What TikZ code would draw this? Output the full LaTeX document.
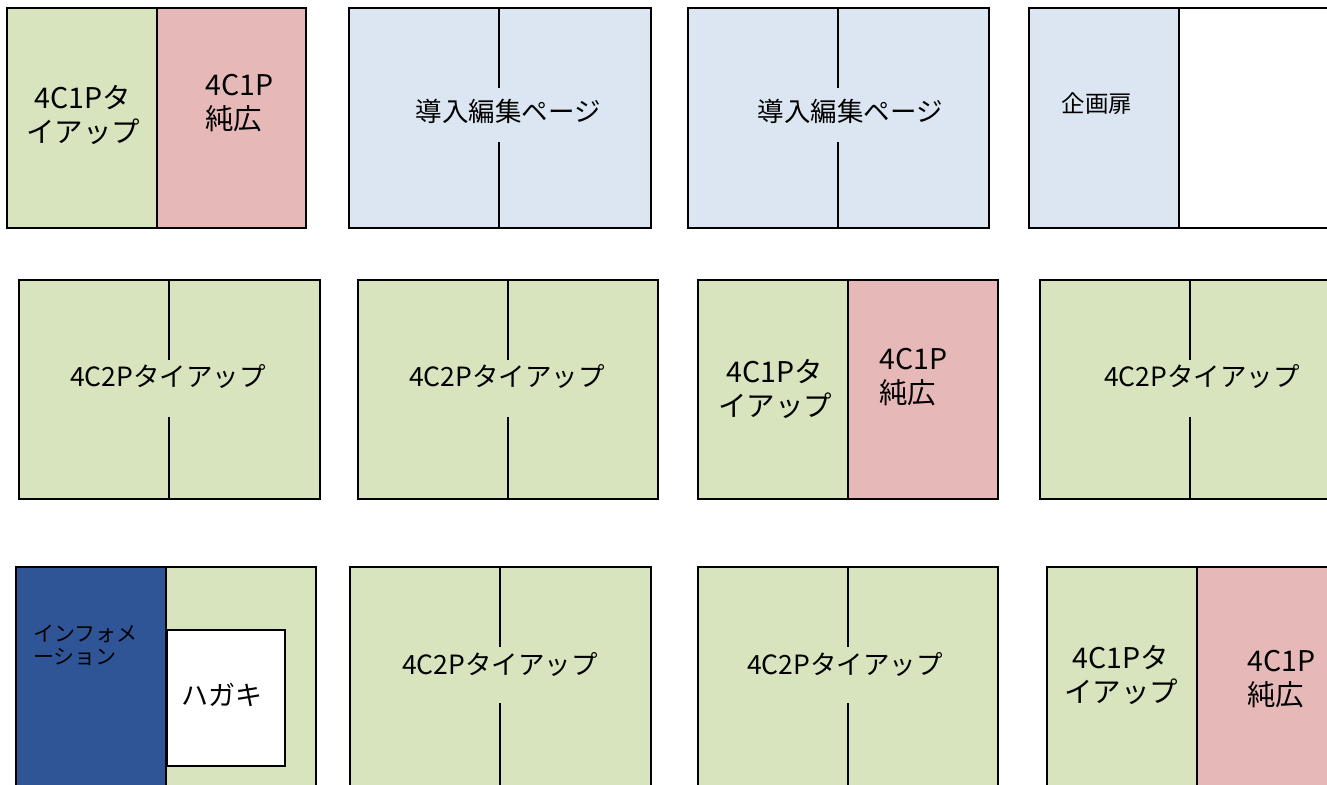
\documentclass[tikz,border=0pt]{standalone}
\usepackage{fontspec}
\newfontfamily\jp{Noto Sans CJK JP}
\definecolor{pgreen}{HTML}{D7E4BD}
\definecolor{ppink}{HTML}{E6B9B8}
\definecolor{pblue}{HTML}{DCE6F2}
\definecolor{pnavy}{HTML}{2F5597}
\begin{document}
\begin{tikzpicture}[x=1pt,y=-1pt,
  edge/.style={draw=black,line width=2pt},
  lbl/.style={inner sep=0pt,text=black},
  big/.style={lbl,font=\jp\fontsize{28.5}{34}\selectfont},
  mid/.style={lbl,font=\jp\fontsize{26.5}{30}\selectfont},
  small/.style={lbl,font=\jp\fontsize{21}{23}\selectfont}]
\useasboundingbox (0,0) rectangle (1327,784);
\clip (0,0) rectangle (1327,784);
% ---------- row 1 ----------
% A
\fill[pgreen] (7,8) rectangle (157,228);
\fill[ppink] (157,8) rectangle (306,228);
\draw[edge] (7,8) rectangle (306,228);
\draw[edge] (157,8) -- (157,228);
\node[big,align=center] (a1) at (83,115) {4C1Pタ\\イアップ};
\node[big,align=left,anchor=west] (a2) at (205,103) {4C1P\\純広};
% B
\fill[pblue] (349,8) rectangle (651,228);
\draw[edge] (349,8) rectangle (651,228);
\draw[edge] (499,8) -- (499,88) (499,142) -- (499,228);
\node[mid] (b1) at (508,111) {導入編集ページ};
% C
\fill[pblue] (688,8) rectangle (989,228);
\draw[edge] (688,8) rectangle (989,228);
\draw[edge] (838,8) -- (838,88) (838,142) -- (838,228);
\node[mid] (c1) at (850,111) {導入編集ページ};
% D
\fill[pblue] (1029,8) rectangle (1179,228);
\fill[white] (1179,8) rectangle (1340,228);
\draw[edge] (1029,8) rectangle (1340,228);
\draw[edge] (1179,8) -- (1179,228);
\node[lbl,font=\jp\fontsize{23.5}{26}\selectfont] (d1) at (1097,104) {企画扉};
% ---------- row 2 ----------
% E
\fill[pgreen] (19,280) rectangle (320,499);
\draw[edge] (19,280) rectangle (320,499);
\draw[edge] (169,280) -- (169,360) (169,417) -- (169,499);
\node[mid] (e1) at (168,376) {4C2Pタイアップ};
% F
\fill[pgreen] (358,280) rectangle (658,499);
\draw[edge] (358,280) rectangle (658,499);
\draw[edge] (508,280) -- (508,360) (508,417) -- (508,499);
\node[mid] (f1) at (507,376) {4C2Pタイアップ};
% G
\fill[pgreen] (698,280) rectangle (848,499);
\fill[ppink] (848,280) rectangle (998,499);
\draw[edge] (698,280) rectangle (998,499);
\draw[edge] (848,280) -- (848,499);
\node[big,align=center] (g1) at (775,389) {4C1Pタ\\イアップ};
\node[big,align=left,anchor=west] (g2) at (879,377) {4C1P\\純広};
% H
\fill[pgreen] (1040,280) rectangle (1340,499);
\draw[edge] (1040,280) rectangle (1340,499);
\draw[edge] (1190,280) -- (1190,360) (1190,417) -- (1190,499);
\node[mid] (h1) at (1202,376) {4C2Pタイアップ};
% ---------- row 3 ----------
% I
\fill[pnavy] (16,567) rectangle (166,800);
\fill[pgreen] (166,567) rectangle (316,800);
\draw[edge] (16,567) rectangle (316,800);
\draw[edge] (166,567) -- (166,800);
\node[draw=black,line width=2pt,fill=white,minimum width=118pt,minimum height=136pt,anchor=north west,inner sep=0pt] (card) at (166,629) {};
\node[lbl,font=\jp\fontsize{27}{30}\selectfont] (i2) at (222,695) {ハガキ};
\node[small,align=left,anchor=west] (i1) at (33,645) {インフォメ\\ーション};
% J
\fill[pgreen] (350,567) rectangle (651,800);
\draw[edge] (350,567) rectangle (651,800);
\draw[edge] (500,567) -- (500,647) (500,703) -- (500,800);
\node[mid] (j1) at (500,664) {4C2Pタイアップ};
% K
\fill[pgreen] (698,567) rectangle (998,800);
\draw[edge] (698,567) rectangle (998,800);
\draw[edge] (848,567) -- (848,647) (848,703) -- (848,800);
\node[mid] (k1) at (845,664) {4C2Pタイアップ};
% L
\fill[pgreen] (1047,567) rectangle (1197,800);
\fill[ppink] (1197,567) rectangle (1347,800);
\draw[edge] (1047,567) rectangle (1347,800);
\draw[edge] (1197,567) -- (1197,800);
\node[big,align=center] (l1) at (1121,675) {4C1Pタ\\イアップ};
\node[big,align=left,anchor=west] (l2) at (1247,679) {4C1P\\純広};
\end{tikzpicture}
\end{document}
